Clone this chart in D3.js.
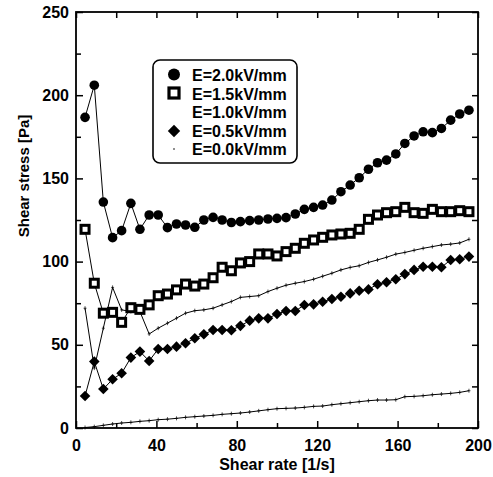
<!DOCTYPE html>
<html>
<head>
<meta charset="utf-8">
<script src="https://cdn.jsdelivr.net/npm/d3@7"></script>
<style>
  body { margin: 0; background: #fff; }
  text { font-family: "Liberation Sans", Arial, sans-serif; font-weight: bold; }
</style>
</head>
<body>
<script>
// shear rate values (same grid for every field strength)
const taxa = [4.5, 9.1, 13.6, 18.2, 22.7, 27.3, 31.8, 36.4, 40.9, 45.5, 50.0, 54.5, 59.1, 63.6, 68.2,
  72.7, 77.3, 81.8, 86.4, 90.9, 95.5, 100.0, 104.5, 109.1, 113.6, 118.2, 122.7, 127.3, 131.8, 136.4,
  140.9, 145.5, 150.0, 154.5, 159.1, 163.6, 168.2, 172.7, 177.3, 181.8, 186.4, 190.9, 195.5];

const tensao20 = [186.7, 206, 135.8, 114.4, 118.6, 135, 119.4, 128, 128, 120.4, 122.6, 122, 120.6, 125,
  126.6, 125, 123.5, 124, 124.6, 125, 125.6, 126, 126.4, 128.6, 131.4, 132.6, 134, 137, 142, 146, 150.4,
  155.5, 159.4, 161, 164.7, 171, 175.5, 178, 177.5, 180, 185, 188.7, 191];

const tensao15 = [119.4, 87, 69, 69.5, 63.5, 72.3, 71.3, 74, 79.5, 80.5, 83, 86.5, 85.3, 86.5, 90.3,
  96.6, 94.5, 99.2, 100, 104.6, 104.6, 103.4, 106, 108, 111, 113, 114.6, 116, 116.6, 117, 119.4, 125.4,
  128, 129.4, 130, 132.6, 129.4, 129, 131.4, 130, 130, 130.6, 130];

const tensao10 = [72, 36, 60, 84.5, 71, 70, 70, 56.5, 60, 63, 66, 69, 70.5, 71, 72, 74, 76, 78.5, 79,
  79.5, 82, 84, 85.8, 87, 88, 89.4, 91.2, 93, 95, 96.5, 97.5, 99.5, 101, 102.6, 104.5, 105.5, 106.8,
  108, 109, 110, 110.5, 111.2, 113.4];

const tensao05 = [19.2, 39.9, 23.4, 29.3, 32.9, 42.3, 45.9, 40.3, 47.5, 47.5, 48.9, 50.9, 53.9, 56.3,
  58.9, 58.9, 58.7, 61.4, 64.5, 65.9, 65.9, 68.5, 70.3, 70.3, 73.9, 74.3, 75.9, 77.5, 78.9, 80.9, 82.5,
  83.3, 86.4, 87.6, 89.4, 92.5, 95, 96.9, 96.9, 96.6, 101, 101.4, 103];

const tensao00 = [0.3, 0.8, 1.6, 2.4, 3.0, 3.4, 4.0, 4.4, 5.0, 5.3, 5.8, 6.4, 6.8, 7.2, 7.6, 8.2, 8.6,
  9.0, 9.6, 10.3, 11.0, 11.6, 11.8, 12.0, 12.4, 13.0, 13.2, 14.0, 14.6, 15.2, 15.8, 16.4, 16.8, 16.8,
  17.0, 18.8, 19.0, 19.4, 20.0, 20.4, 20.8, 21.4, 22.4];

const legendas = ["E=2.0kV/mm", "E=1.5kV/mm", "E=1.0kV/mm", "E=0.5kV/mm", "E=0.0kV/mm"];
const ticksX = [0, 40, 80, 120, 160, 200];
const ticksXmenor = [20, 60, 100, 140, 180];
const ticksY = [0, 50, 100, 150, 200, 250];
const ticksYmenor = [25, 75, 125, 175, 225];

const largura = 493, altura = 477;
const esq = 76, dir = 478, topo = 12, base = 428;

const svg = d3.select("body").append("svg")
  .attr("width", largura)
  .attr("height", altura);

const x = d3.scaleLinear().domain([0, 200]).range([esq, dir]);
const y = d3.scaleLinear().domain([0, 250]).range([base, topo]);

// eixos com ticks para dentro
function eixo(g) {
  g.select(".domain").remove();
  g.selectAll(".tick line").attr("stroke", "#000").attr("stroke-width", 1.5);
  g.selectAll("text").attr("fill", "#000").style("font-size", "16px");
}

svg.append("g").attr("transform", `translate(0,${base})`)
  .call(d3.axisBottom(x).tickValues(ticksX).tickSize(-7).tickPadding(11.6).tickFormat(d3.format("d")))
  .call(eixo);
svg.append("g").attr("transform", `translate(0,${base})`)
  .call(d3.axisBottom(x).tickValues(ticksXmenor).tickSize(-5).tickFormat(""))
  .call(eixo);
svg.append("g").attr("transform", `translate(0,${topo})`)
  .call(d3.axisTop(x).tickValues(ticksX.concat(ticksXmenor)).tickSize(-6).tickFormat(""))
  .call(eixo);

svg.append("g").attr("transform", `translate(${esq},0)`)
  .call(d3.axisLeft(y).tickValues(ticksY).tickSize(-7).tickPadding(7).tickFormat(d3.format("d")))
  .call(eixo);
svg.append("g").attr("transform", `translate(${esq},0)`)
  .call(d3.axisLeft(y).tickValues(ticksYmenor).tickSize(-5).tickFormat(""))
  .call(eixo);
svg.append("g").attr("transform", `translate(${dir},0)`)
  .call(d3.axisRight(y).tickValues(ticksY.concat(ticksYmenor)).tickSize(-6).tickFormat(""))
  .call(eixo);

svg.append("rect") // moldura
  .attr("x", esq).attr("y", topo)
  .attr("width", dir - esq).attr("height", base - topo)
  .attr("fill", "none").attr("stroke", "#000").attr("stroke-width", 1.8);

svg.append("text")
  .attr("x", (esq + dir) / 2).attr("y", 470)
  .attr("text-anchor", "middle")
  .style("font-size", "16px")
  .text("Shear rate [1/s]");

svg.append("text")
  .attr("transform", "translate(29,176) rotate(-90)")
  .attr("text-anchor", "middle")
  .style("font-size", "15px")
  .text("Shear stress [Pa]");

const linha = d3.line().x(d => x(d[0])).y(d => y(d[1]));
const series = [tensao20, tensao15, tensao10, tensao05, tensao00].map(v => d3.zip(taxa, v));

const grupo = svg.append("g");

series.forEach(s => {
  grupo.append("path")
    .attr("d", linha(s))
    .attr("fill", "none")
    .attr("stroke", "#000")
    .attr("stroke-width", 1);
});

// pequenos "+" nas curvas finas
[series[2], series[4]].forEach(s => {
  grupo.selectAll(null).data(s).join("path")
    .attr("d", d => `M${x(d[0]) - 1.5},${y(d[1])}h3M${x(d[0])},${y(d[1]) - 2}v4`)
    .attr("stroke", "#000")
    .attr("stroke-width", 0.7);
});

const losango = r => `M0,${-r}L${r},0L0,${r}L${-r},0Z`;

grupo.selectAll(".c20").data(series[0]).join("circle")
  .attr("cx", d => x(d[0])).attr("cy", d => y(d[1]))
  .attr("r", 4.8).attr("fill", "#000");

grupo.selectAll(".c15").data(series[1]).join("rect")
  .attr("x", d => x(d[0]) - 4).attr("y", d => y(d[1]) - 4)
  .attr("width", 8).attr("height", 8)
  .attr("fill", "#fff").attr("stroke", "#000").attr("stroke-width", 3);

grupo.selectAll(".c05").data(series[3]).join("path")
  .attr("transform", d => `translate(${x(d[0])},${y(d[1])})`)
  .attr("d", losango(5.3))
  .attr("fill", "#000");

// legenda
const leg = svg.append("g");
leg.append("rect")
  .attr("x", 153).attr("y", 60).attr("width", 144).attr("height", 103)
  .attr("rx", 7).attr("fill", "#fff").attr("stroke", "#000").attr("stroke-width", 1.6);

const linhasLeg = [81, 99.5, 118, 136.5, 155];
leg.selectAll("text").data(legendas).join("text")
  .attr("x", 192).attr("y", (d, i) => linhasLeg[i])
  .style("font-size", "16px")
  .text(d => d);

leg.append("circle").attr("cx", 174).attr("cy", 74.5).attr("r", 6).attr("fill", "#000");
leg.append("rect").attr("x", 169).attr("y", 88).attr("width", 10).attr("height", 10)
  .attr("fill", "#fff").attr("stroke", "#000").attr("stroke-width", 3.2);
leg.append("path").attr("transform", "translate(174,131)").attr("d", losango(6.2)).attr("fill", "#000");
leg.append("circle").attr("cx", 174).attr("cy", 149).attr("r", 0.8).attr("fill", "#000");
</script>
</body>
</html>
